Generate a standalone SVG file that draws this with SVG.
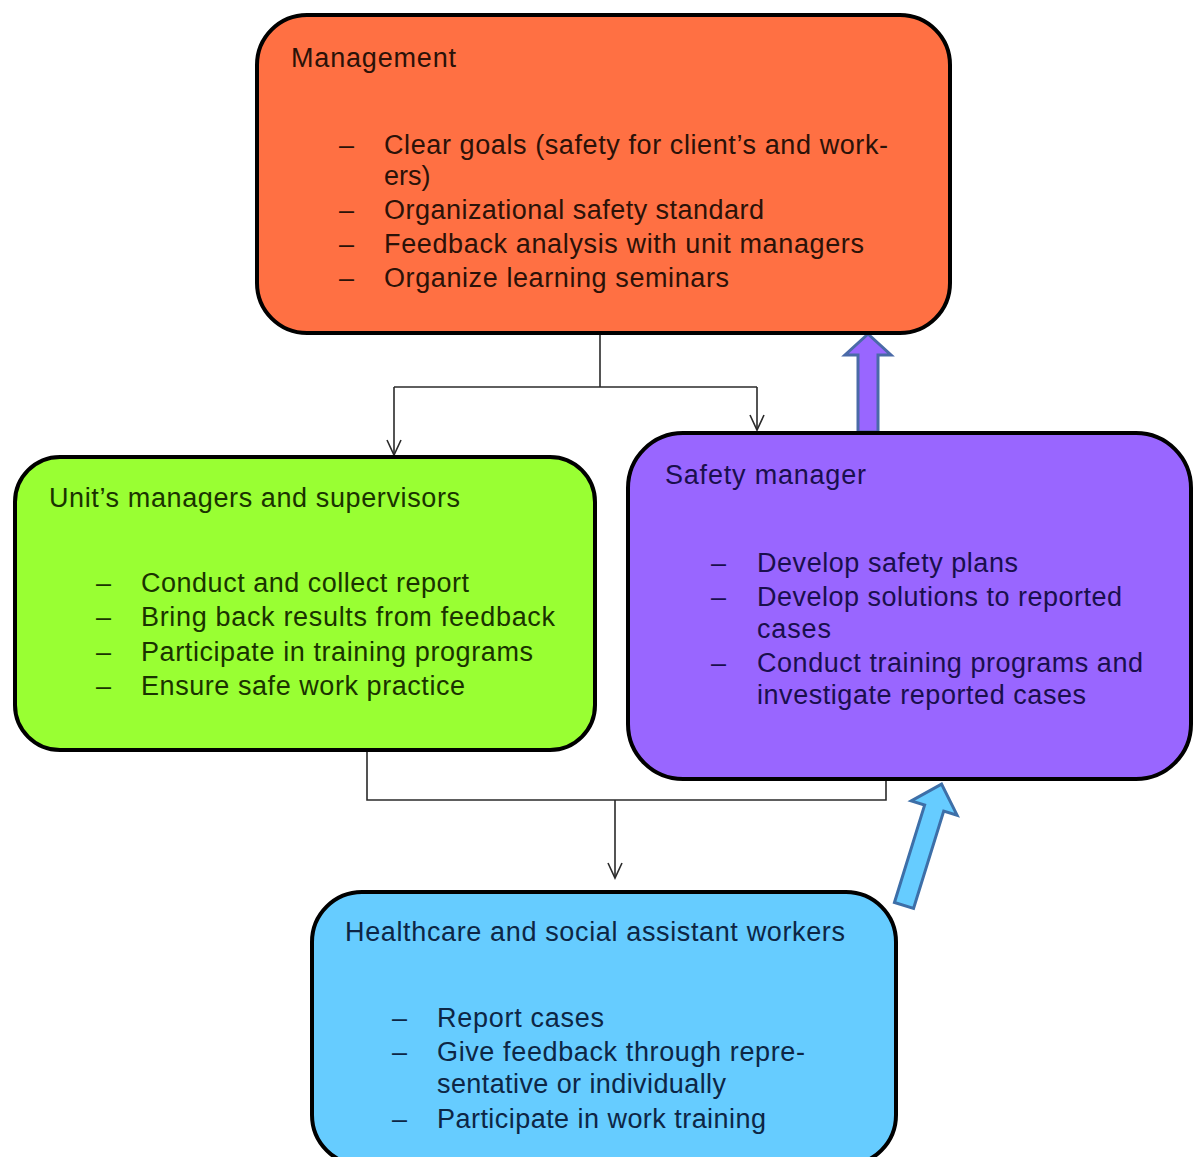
<svg xmlns="http://www.w3.org/2000/svg" width="1195" height="1157" viewBox="0 0 1195 1157">
  <style>
    .box { stroke: #000; stroke-width: 4; }
    .lbl { font-family: "Liberation Sans", Arial, sans-serif; font-size: 27px; }
    .mgmt { fill: #2b1208; }
    .unit { fill: #1a3300; }
    .safe { fill: #1a0f4d; }
    .work { fill: #0d2645; }
    .conn { fill: none; stroke: #2a2a2a; stroke-width: 1.6; }
    .block { stroke-width: 3; stroke-linejoin: miter; }
  </style>

  <rect width="1195" height="1157" fill="#fff"/>

  <!-- connectors -->
  <g id="connectors">
    <path class="conn" d="M600,335 V387"/>
    <path class="conn" d="M394,387 H757"/>
    <path class="conn" d="M394,387 V455"/>
    <path class="conn" d="M757,387 V430"/>
    <path class="conn" d="M367,752 V800 H886 V781"/>
    <path class="conn" d="M615,800 V878"/>
    <!-- open arrowheads -->
    <path class="conn" d="M387,440 L394,455 L401,440"/>
    <path class="conn" d="M750,415 L757,430 L764,415"/>
    <path class="conn" d="M608,863 L615,878 L622,863"/>
    <!-- block arrows -->
    <path class="block" d="M858,432 L858,355 L845,355 L868,334 L891,355 L878,355 L878,432 Z" fill="#9966FF" stroke="#4A6AA8"/>
    <path class="block" d="M-10,0 L-10,-102 L-24,-102 L0,-127 L24,-102 L10,-102 L10,0 Z" fill="#66CCFF" stroke="#3D6FA8" transform="translate(904,905.5) rotate(17.2)"/>
  </g>

  <!-- Management -->
  <g id="management">
    <rect class="box" x="257" y="15" width="693" height="318" rx="50" fill="#FF7043"/>
    <text class="lbl mgmt" x="291" y="67" textLength="165" lengthAdjust="spacing">Management</text>
    <text class="lbl mgmt" x="339" y="154">–</text>
    <text class="lbl mgmt" x="384" y="154" textLength="504" lengthAdjust="spacing">Clear goals (safety for client’s and work-</text>
    <text class="lbl mgmt" x="384" y="185">ers)</text>
    <text class="lbl mgmt" x="339" y="219">–</text>
    <text class="lbl mgmt" x="384" y="219" textLength="380" lengthAdjust="spacing">Organizational safety standard</text>
    <text class="lbl mgmt" x="339" y="253">–</text>
    <text class="lbl mgmt" x="384" y="253" textLength="480" lengthAdjust="spacing">Feedback analysis with unit managers</text>
    <text class="lbl mgmt" x="339" y="287">–</text>
    <text class="lbl mgmt" x="384" y="287" textLength="345" lengthAdjust="spacing">Organize learning seminars</text>
  </g>

  <!-- Unit's managers and supervisors -->
  <g id="unit-managers">
    <rect class="box" x="15" y="457" width="580" height="293" rx="45" fill="#99FF33"/>
    <text class="lbl unit" x="49" y="507" textLength="411" lengthAdjust="spacing">Unit’s managers and supervisors</text>
    <text class="lbl unit" x="96" y="592">–</text>
    <text class="lbl unit" x="141" y="592" textLength="328" lengthAdjust="spacing">Conduct and collect report</text>
    <text class="lbl unit" x="96" y="626">–</text>
    <text class="lbl unit" x="141" y="626" textLength="414" lengthAdjust="spacing">Bring back results from feedback</text>
    <text class="lbl unit" x="96" y="661">–</text>
    <text class="lbl unit" x="141" y="661" textLength="392" lengthAdjust="spacing">Participate in training programs</text>
    <text class="lbl unit" x="96" y="695">–</text>
    <text class="lbl unit" x="141" y="695" textLength="324" lengthAdjust="spacing">Ensure safe work practice</text>
  </g>

  <!-- Safety manager -->
  <g id="safety-manager">
    <rect class="box" x="628" y="433" width="563" height="346" rx="55" fill="#9966FF"/>
    <text class="lbl safe" x="665" y="484" textLength="201" lengthAdjust="spacing">Safety manager</text>
    <text class="lbl safe" x="711" y="572">–</text>
    <text class="lbl safe" x="757" y="572" textLength="261" lengthAdjust="spacing">Develop safety plans</text>
    <text class="lbl safe" x="711" y="606">–</text>
    <text class="lbl safe" x="757" y="606" textLength="365" lengthAdjust="spacing">Develop solutions to reported</text>
    <text class="lbl safe" x="757" y="638" textLength="74" lengthAdjust="spacing">cases</text>
    <text class="lbl safe" x="711" y="672">–</text>
    <text class="lbl safe" x="757" y="672" textLength="386" lengthAdjust="spacing">Conduct training programs and</text>
    <text class="lbl safe" x="757" y="704" textLength="329" lengthAdjust="spacing">investigate reported cases</text>
  </g>

  <!-- Healthcare and social assistant workers -->
  <g id="workers">
    <rect class="box" x="312" y="892" width="584" height="273" rx="50" fill="#66CCFF"/>
    <text class="lbl work" x="345" y="941" textLength="500" lengthAdjust="spacing">Healthcare and social assistant workers</text>
    <text class="lbl work" x="392" y="1027">–</text>
    <text class="lbl work" x="437" y="1027" textLength="167" lengthAdjust="spacing">Report cases</text>
    <text class="lbl work" x="392" y="1061">–</text>
    <text class="lbl work" x="437" y="1061" textLength="368" lengthAdjust="spacing">Give feedback through repre-</text>
    <text class="lbl work" x="437" y="1093" textLength="289" lengthAdjust="spacing">sentative or individually</text>
    <text class="lbl work" x="392" y="1128">–</text>
    <text class="lbl work" x="437" y="1128" textLength="329" lengthAdjust="spacing">Participate in work training</text>
  </g>
</svg>
